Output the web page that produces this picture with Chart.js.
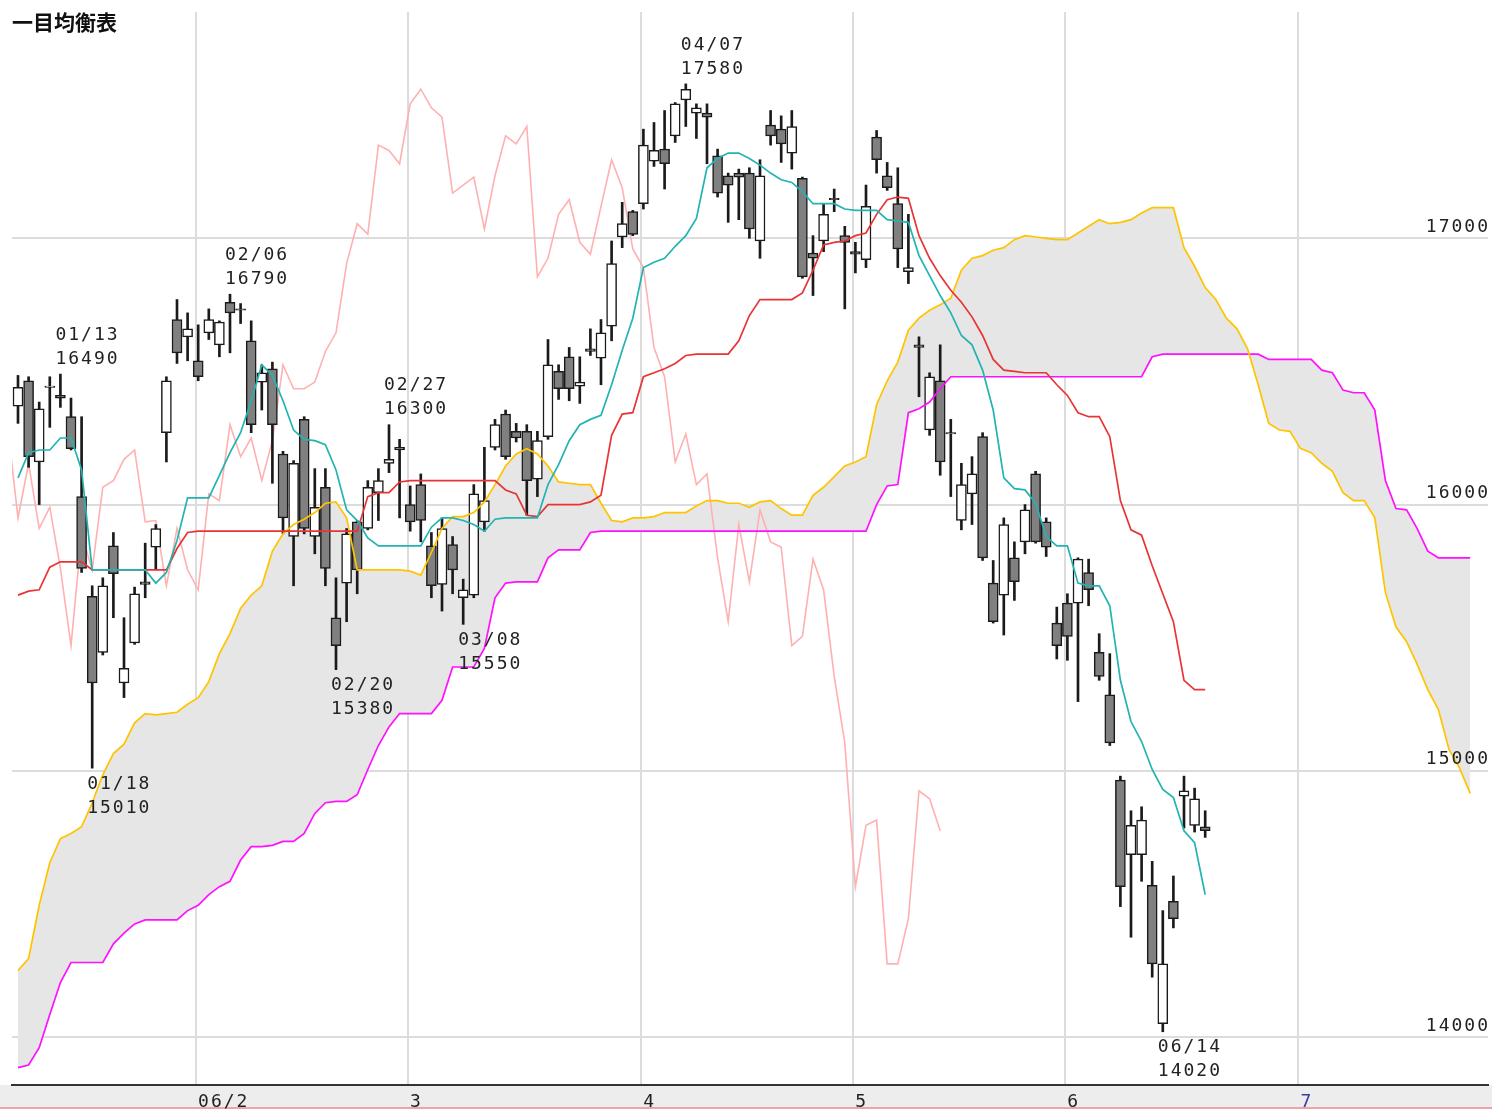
<!DOCTYPE html>
<html><head><meta charset="utf-8">
<script src="https://cdn.jsdelivr.net/npm/chart.js@4.4.1/dist/chart.umd.min.js"></script>
<style>html,body{margin:0;padding:0;background:#fff;overflow:hidden}canvas{display:block}</style>
</head><body>
<canvas id="c" width="1492" height="1109"></canvas>
<script>
// ---- candle data (trading-day index 0..112) ----
const opens = [
16370,16465,16160,16440,16410,16330,16030,15655,15445,15845,
15330,15480,15710,15840,16270,16695,16630,16540,16645,16600,
16760,16735,16615,16460,16510,16190,15880,16320,15880,16065,
15575,15705,15935,15910,16045,16155,16215,16000,16075,15845,
15700,15850,15650,15660,15935,16215,16340,16275,16275,16095,
16255,16500,16555,16445,16585,16550,16670,17005,17100,17130,
17290,17335,17385,17520,17470,17470,17310,17235,17245,17245,
16990,17425,17410,17320,17225,16945,16990,17150,17010,16950,
16920,17380,17235,17130,16875,16600,16280,16465,16270,15940,
16040,16255,15705,15660,15800,15860,16115,15935,15555,15630,
15630,15745,15445,15285,14965,14685,14685,14570,14050,14510,
14905,14795,14790];
const highs = [
16485,16480,16385,16480,16490,16400,16330,15695,15725,15895,
15575,15690,15855,15925,16480,16770,16720,16675,16735,16690,
16790,16755,16690,16525,16535,16200,16165,16330,16135,16135,
15725,15910,15940,16090,16135,16300,16245,16070,16115,15895,
15950,15880,15720,16075,16215,16320,16355,16305,16300,16275,
16620,16525,16590,16555,16660,16695,16990,17135,17105,17410,
17435,17480,17510,17580,17505,17505,17335,17245,17260,17265,
17295,17480,17460,17480,17230,17010,17130,17185,17045,16985,
17200,17405,17285,17265,17090,16630,16495,16600,16320,16155,
16180,16270,15790,15950,15860,16000,16125,15950,15615,15665,
15800,15795,15515,15440,14980,14850,14865,14660,14475,14605,
14980,14935,14850];
const lows = [
16305,16140,16000,16290,16365,16205,15745,15010,15435,15575,
15275,15475,15650,15755,16160,16530,16540,16465,16620,16555,
16570,16680,16270,16355,16080,15890,15695,15890,15815,15695,
15380,15560,15665,15905,15940,16120,15950,15900,15860,15650,
15600,15665,15550,15650,15900,16205,16170,16235,15960,16030,
16245,16395,16390,16380,16560,16450,16615,16965,17010,17110,
17270,17185,17360,17420,17375,17280,17155,17060,17070,17000,
16925,17350,17285,17260,16850,16785,16950,17100,16735,16870,
16890,17245,17180,16890,16830,16405,16260,16110,16030,15905,
15925,15790,15555,15510,15640,15815,15855,15805,15420,15415,
15260,15620,15340,15095,14490,14375,14585,14225,14020,14410,
14785,14770,14750];
const closes = [
16440,16180,16360,16445,16400,16210,15760,15330,15695,15740,
15385,15665,15700,15910,16465,16570,16660,16480,16695,16685,
16720,16730,16300,16495,16300,15950,16155,15910,15990,15760,
15470,15890,15755,16065,16090,16170,16205,15935,15940,15695,
15910,15755,15680,16040,16015,16300,16180,16250,16090,16240,
16525,16435,16435,16460,16575,16645,16905,17055,17015,17350,
17330,17280,17505,17560,17490,17455,17170,17200,17230,17035,
17235,17385,17355,17420,16855,16925,17090,17145,16985,16940,
17120,17295,17190,16960,16890,16590,16480,16160,16265,16075,
16115,15800,15560,15925,15710,15980,15860,15840,15470,15505,
15795,15680,15355,15105,14565,14795,14815,14275,14275,14445,
14925,14895,14775];

// ---- Ichimoku lines ----
const tenkan = [
16100,16195,16205,16205,16250,16250,16130,15755,15755,15755,
15755,15755,15755,15705,15745,15865,16025,16025,16025,16110,
16195,16270,16390,16525,16485,16390,16280,16245,16240,16225,
16130,15980,15940,15875,15845,15845,15845,15845,15845,15915,
15950,15950,15940,15925,15900,15945,15950,15950,15950,15950,
16075,16150,16240,16300,16320,16335,16450,16580,16700,16890,
16910,16925,16970,17010,17075,17265,17300,17320,17320,17300,
17275,17245,17220,17210,17175,17130,17130,17130,17110,17105,
17105,17105,17070,17065,17060,16935,16860,16785,16720,16635,
16600,16505,16355,16100,16060,16055,16005,15880,15845,15845,
15705,15695,15695,15620,15340,15185,15110,15005,14930,14900,
14775,14730,14535];
const kijun = [
15660,15675,15680,15765,15785,15785,15785,15755,15755,15755,
15755,15755,15755,15755,15755,15835,15895,15900,15900,15900,
15900,15900,15900,15900,15900,15900,15900,15900,15900,15900,
15900,15900,15900,16030,16045,16045,16085,16090,16090,16090,
16090,16090,16090,16090,16090,16090,16055,16040,15960,15955,
16000,16000,16000,16000,16010,16035,16260,16340,16345,16480,
16495,16510,16530,16560,16565,16565,16565,16565,16615,16710,
16770,16770,16770,16770,16795,16880,16975,16985,16990,17010,
17020,17090,17145,17155,17150,17010,16925,16860,16805,16760,
16705,16635,16545,16505,16500,16495,16495,16495,16450,16410,
16345,16330,16330,16255,16015,15905,15885,15770,15665,15560,
15340,15305,15305];
const spanA = [
14250,14295,14495,14655,14745,14765,14790,14880,14985,15065,
15100,15180,15215,15210,15215,15220,15250,15275,15335,15440,
15515,15610,15660,15695,15825,15890,15925,15945,15970,16005,
16010,15950,15755,15755,15755,15755,15755,15750,15735,15820,
15910,15955,15955,15970,16010,16075,16145,16190,16210,16190,
16145,16085,16080,16075,16075,16005,15940,15935,15950,15950,
15955,15970,15970,15970,15995,16015,16015,16005,16005,15990,
16010,16015,15985,15960,15960,16035,16065,16105,16145,16160,
16180,16375,16465,16535,16655,16700,16730,16750,16775,16880,
16925,16935,16955,16965,16995,17010,17005,17000,16995,16995,
17020,17045,17070,17055,17060,17070,17095,17115,17115,17115,
16965,16895,16815,16770,16700,16660,16585,16450,16305,16280,
16275,16210,16195,16155,16125,16045,16015,16015,15950,15670,
15540,15485,15400,15305,15230,15080,15010,14915];
const spanB = [
13885,13895,13960,14085,14205,14280,14280,14280,14280,14350,
14390,14425,14440,14440,14440,14440,14475,14495,14535,14565,
14585,14665,14715,14715,14720,14735,14735,14765,14840,14880,
14885,14885,14910,15005,15095,15165,15215,15215,15215,15215,
15265,15390,15390,15390,15460,15650,15705,15710,15710,15710,
15800,15830,15830,15830,15895,15900,15900,15900,15900,15900,
15900,15900,15900,15900,15900,15900,15900,15900,15900,15900,
15900,15900,15900,15900,15900,15900,15900,15900,15900,15900,
15900,16000,16070,16075,16345,16360,16385,16435,16480,16480,
16480,16480,16480,16480,16480,16480,16480,16480,16480,16480,
16480,16480,16480,16480,16480,16480,16480,16555,16565,16565,
16565,16565,16565,16565,16565,16565,16565,16565,16545,16545,
16545,16545,16545,16505,16495,16430,16420,16420,16355,16090,
15985,15980,15910,15825,15800,15800,15800,15800];
const chikouShift = 25;

// ---- axis labels ----
const monthStartIdx = [17, 37, 59, 79, 99, 121];
const monthLabels = ['06/2', '3', '4', '5', '6', '7'];
const yTicks = [14000, 15000, 16000, 17000];

// ---- high / low annotations ----
const markIdx = [4, 7, 20, 30, 35, 42, 63, 108];
const markDates = ['01/13', '01/18', '02/06', '02/20', '02/27', '03/08', '04/07', '06/14'];
const markSide = ['high', 'low', 'high', 'low', 'high', 'low', 'high', 'low'];

const title = '一目均衡表';

const pts = (arr, shift) => arr.map((v, i) => ({x: i + shift, y: v}));

const NUMFONT = '18px "DejaVu Sans Mono", "Liberation Mono", monospace';

const overlay = {
  id: 'overlay',
  beforeDraw(chart) {
    const {ctx, chartArea: a, width, height} = chart;
    ctx.save();
    ctx.fillStyle = '#ffffff';
    ctx.fillRect(0, 0, width, height);
    ctx.fillStyle = '#ededed';
    ctx.fillRect(0, a.bottom, width, height - a.bottom);
    ctx.strokeStyle = '#f08a8a';
    ctx.lineWidth = 1.5;
    ctx.beginPath();
    ctx.moveTo(0, height - 1);
    ctx.lineTo(width, height - 1);
    ctx.stroke();
    ctx.restore();
  },
  afterDatasetsDraw(chart) {
    const {ctx, chartArea: a} = chart;
    const xs = chart.scales.x, ys = chart.scales.y;
    ctx.save();
    ctx.font = NUMFONT;
    try { ctx.letterSpacing = '2px'; } catch (e) {}
    ctx.fillStyle = '#222';
    ctx.textBaseline = 'middle';
    // y labels (right, inside)
    ctx.textAlign = 'right';
    yTicks.forEach(v => {
      ctx.fillText(String(v), a.right + 2, ys.getPixelForValue(v) - 11);
    });
    // annotations
    ctx.textAlign = 'left';
    markIdx.forEach((i, k) => {
      const x = xs.getPixelForValue(i) - 5;
      if (markSide[k] === 'high') {
        const y = ys.getPixelForValue(highs[i]);
        ctx.fillText(markDates[k], x, y - 39);
        ctx.fillText(String(highs[i]), x, y - 15);
      } else {
        const y = ys.getPixelForValue(lows[i]);
        ctx.fillText(markDates[k], x, y + 16);
        ctx.fillText(String(lows[i]), x, y + 40);
      }
    });
    // month labels in bottom band
    ctx.textBaseline = 'top';
    monthStartIdx.forEach((i, k) => {
      ctx.fillStyle = k === monthLabels.length - 1 ? '#3a3aa8' : '#222';
      ctx.fillText(monthLabels[k], xs.getPixelForValue(i - 0.2) + 2, a.bottom + 8);
    });
    // title
    try { ctx.letterSpacing = '0px'; } catch (e) {}
    ctx.fillStyle = '#111';
    ctx.textBaseline = 'middle';
    ctx.font = 'bold 21px "Noto Sans CJK JP", sans-serif';
    ctx.fillText(title, 12, 22);
    ctx.restore();
  }
};

new Chart(document.getElementById('c'), {
  type: 'line',
  data: {
    datasets: [
      {label: '転換線', data: pts(tenkan, 0), borderColor: '#22b3b3', borderWidth: 1.7, pointRadius: 0, fill: false, order: 2},
      {label: '基準線', data: pts(kijun, 0), borderColor: '#e83434', borderWidth: 1.7, pointRadius: 0, fill: false, order: 3},
      {label: '先行スパン1', data: pts(spanA, 0), borderColor: '#ffc400', borderWidth: 1.7, pointRadius: 0, fill: '+1', backgroundColor: '#e6e6e6', order: 4},
      {label: '先行スパン2', data: pts(spanB, 0), borderColor: '#ff10ff', borderWidth: 1.7, pointRadius: 0, fill: false, order: 5},
      {label: '遅行スパン', data: pts(closes, -chikouShift), borderColor: '#ffb0b0', borderWidth: 1.6, pointRadius: 0, fill: false, order: 12},
      {type: 'bar', label: 'body', data: opens.map((o, i) => ({x: i, y: [o, closes[i]]})),
        backgroundColor: opens.map((o, i) => closes[i] >= o ? '#ffffff' : '#808080'),
        borderColor: '#1a1a1a', borderWidth: 1.5, borderSkipped: false, barThickness: 10, grouped: false, order: 10},
      {type: 'bar', label: 'wick', data: lows.map((l, i) => ({x: i, y: [l, highs[i]]})),
        backgroundColor: '#1a1a1a', borderWidth: 0, barThickness: 2, grouped: false, order: 11}
    ]
  },
  options: {
    responsive: false, animation: false, devicePixelRatio: 1,
    layout: {padding: {left: 12, right: 4, top: 12, bottom: 0}},
    plugins: {legend: {display: false}, tooltip: {enabled: false}, filler: {drawTime: 'beforeDatasetsDraw'}},
    scales: {
      x: {type: 'linear', min: -0.566, max: 138.68, offset: false,
        afterBuildTicks: s => { s.ticks = monthStartIdx.map(i => ({value: i - 0.2})); },
        ticks: {display: false},
        grid: {color: '#dcdcdc', lineWidth: 2, drawTicks: false, offset: false},
        border: {display: true, color: '#333', width: 2},
        afterFit: s => { s.height = 24; }},
      y: {type: 'linear', position: 'right', min: 13820, max: 17850,
        afterBuildTicks: s => { s.ticks = yTicks.map(v => ({value: v})); },
        ticks: {display: false},
        grid: {color: '#dcdcdc', lineWidth: 2, drawTicks: false, offset: false},
        border: {display: false},
        afterFit: s => { s.width = 0; }}
    }
  },
  plugins: [overlay]
});
</script>
</body></html>
